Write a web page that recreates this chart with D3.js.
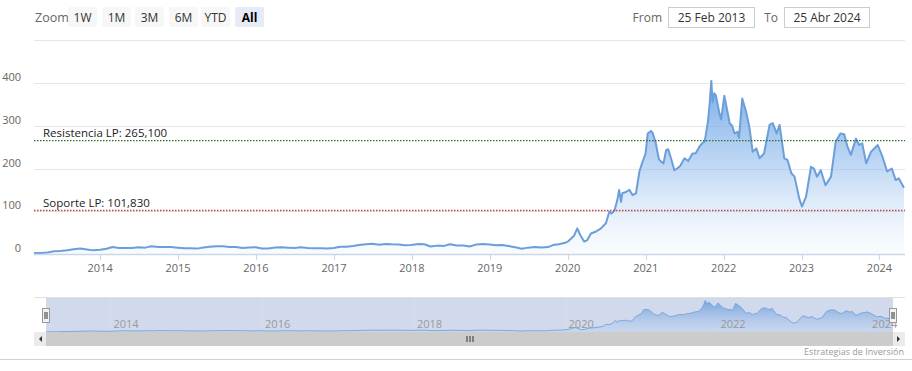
<!DOCTYPE html>
<html><head><meta charset="utf-8">
<script src="https://cdn.jsdelivr.net/npm/d3@7"></script>
<style>
body{margin:0;background:#fff}
svg{display:block;font-family:"Open Sans",sans-serif}
</style>
</head><body>
<svg id="c" width="912" height="371"></svg>
<script>
// ---------- DATA ----------
const dates = [
"2013-02-25","2013-03-28","2013-04-30","2013-05-31","2013-06-28","2013-07-31","2013-08-30","2013-09-30","2013-10-31","2013-11-29","2013-12-31",
"2014-01-31","2014-02-28","2014-03-31","2014-04-30","2014-05-30","2014-06-30","2014-07-31","2014-08-29","2014-09-30","2014-10-31","2014-11-28","2014-12-31",
"2015-01-30","2015-02-27","2015-03-31","2015-04-30","2015-05-29","2015-06-30","2015-07-31","2015-08-31","2015-09-30","2015-10-30","2015-11-30","2015-12-31",
"2016-01-29","2016-02-29","2016-03-31","2016-04-29","2016-05-31","2016-06-30","2016-07-29","2016-08-31","2016-09-30","2016-10-31","2016-11-30","2016-12-30",
"2017-01-31","2017-02-28","2017-03-31","2017-04-28","2017-05-31","2017-06-30","2017-07-31","2017-08-31","2017-09-29","2017-10-31","2017-11-30","2017-12-29",
"2018-01-31","2018-02-28","2018-03-29","2018-04-30","2018-05-31","2018-06-29","2018-07-31","2018-08-31","2018-09-28","2018-10-31","2018-11-30","2018-12-31",
"2019-01-31","2019-02-28","2019-03-29","2019-04-30","2019-05-31","2019-06-28","2019-07-31","2019-08-30","2019-10-01","2019-10-24","2019-11-20","2019-12-16",
"2020-01-02","2020-01-15","2020-01-31","2020-02-15","2020-02-28","2020-03-18","2020-04-01","2020-04-19","2020-05-10","2020-06-05","2020-06-28","2020-07-14","2020-07-24","2020-08-07","2020-08-20","2020-08-29","2020-09-07","2020-09-13","2020-09-30","2020-10-16","2020-10-31","2020-11-16","2020-12-02","2020-12-17","2020-12-31",
"2021-01-10","2021-01-25","2021-02-03","2021-02-17","2021-03-03","2021-03-14","2021-03-25","2021-04-06","2021-04-16","2021-04-29","2021-05-15","2021-05-28","2021-06-11","2021-07-01","2021-07-19","2021-08-08","2021-08-23","2021-09-09","2021-09-24","2021-10-04","2021-10-20","2021-10-27","2021-11-04","2021-11-10","2021-11-18","2021-11-26","2021-12-12","2021-12-20",
"2022-01-04","2022-01-14","2022-01-29","2022-02-10","2022-02-21","2022-03-07","2022-03-14","2022-03-29","2022-04-16","2022-05-01","2022-05-17","2022-06-03","2022-06-18","2022-07-09","2022-08-04","2022-08-19","2022-09-06","2022-09-20","2022-10-12","2022-10-27","2022-11-14","2022-11-29","2022-12-21",
"2023-01-03","2023-01-22","2023-02-14","2023-02-28","2023-03-14","2023-04-01","2023-04-23","2023-05-19","2023-06-10","2023-07-02","2023-07-20","2023-08-04","2023-08-20","2023-09-13","2023-09-27","2023-10-12","2023-10-31","2023-11-22","2023-12-24",
"2024-01-15","2024-02-06","2024-02-28","2024-03-17","2024-03-31","2024-04-08","2024-04-25"
];
const values = [
2.3,2.5,3.6,6.5,7.2,8.9,11.2,12.9,10.7,8.5,10.0,
12.1,16.2,13.9,13.9,13.8,16.0,14.9,17.9,16.2,16.1,16.3,14.8,
13.6,13.6,12.6,15.1,16.7,17.9,17.9,16.6,16.6,13.8,15.3,16.0,
12.7,12.7,15.3,16.0,14.9,14.2,15.6,14.1,13.6,13.2,12.7,14.2,
16.9,16.7,18.6,20.9,22.7,24.1,21.6,23.6,22.7,22.1,20.6,20.8,
23.6,22.9,17.7,19.6,19.0,22.9,19.9,20.1,17.6,22.5,23.5,22.2,
20.5,21.3,18.7,15.9,12.3,14.9,16.1,15.0,16.1,20.9,23,25.5,
29,35,43,60,45,29,32,48,52,60,72,99,95,101,125,150,122,142,145,150,138,142,193,216,235,
282,288,282,259,222,216,212,243,245,224,196,200,206,224,218,235,236,251,260,263,313,350,405,355,376,370,329,315,
370,345,306,300,282,286,272,364,333,298,239,247,224,235,302,306,282,302,224,220,189,181,130,
111,134,204,200,181,196,161,181,263,282,280,251,232,270,255,259,212,239,255,
228,193,200,173,177,170,155
];
const yTickValues = [0,100,200,300,400];
const gridValues = [100,200,300,400,500];
const plotLineValues = [265.1, 101.83];
const plotLineLabels = ["Resistencia LP: 265,100","Soporte LP: 101,830"];
const plotLineColors = ["#2f6f2f","#c0474f"];
const zoomButtons = ["1W","1M","3M","6M","YTD","All"];
const fromText = "25 Feb 2013", toText = "25 Abr 2024";
const creditText = "Estrategias de Inversión";

// ---------- SETUP ----------
const svg = d3.select("#c");
const parse = d3.utcParse("%Y-%m-%d");
const data = dates.map((d,i)=>({date:parse(d), v:values[i]}));
const L = 34, R = 905, TOP = 40, BOT = 254;
const x = d3.scaleUtc().domain(d3.extent(data,d=>d.date)).range([L,904]);
const y = d3.scaleLinear().domain([0,500]).range([BOT,40.3]);

// gradient
const defs = svg.append("defs");
const g1 = defs.append("linearGradient").attr("id","gm").attr("gradientUnits","userSpaceOnUse")
  .attr("x1",0).attr("y1",80).attr("x2",0).attr("y2",BOT);
g1.append("stop").attr("offset","0").attr("stop-color","#6aa3e4").attr("stop-opacity",0.9);
g1.append("stop").attr("offset","0.5").attr("stop-color","#8db9ec").attr("stop-opacity",0.55);
g1.append("stop").attr("offset","1").attr("stop-color","#d8e7f8").attr("stop-opacity",0.15);
const g2 = defs.append("linearGradient").attr("id","gn").attr("gradientUnits","userSpaceOnUse")
  .attr("x1",0).attr("y1",298).attr("x2",0).attr("y2",332);
g2.append("stop").attr("offset","0").attr("stop-color","#5f97d9").attr("stop-opacity",0.9);
g2.append("stop").attr("offset","1").attr("stop-color","#a9c6ec").attr("stop-opacity",0.2);

// ---------- RANGE SELECTOR ----------
svg.append("text").attr("x",35).attr("y",22).attr("font-size",12.5).attr("fill","#666").text("Zoom");
const bx = [68,102,135,169,201,235];
zoomButtons.forEach((b,i)=>{
  const sel = b==="All";
  svg.append("rect").attr("x",bx[i]).attr("y",7).attr("width",29).attr("height",20).attr("rx",2)
    .attr("fill",sel?"#e6ebf5":"#f7f7f7");
  svg.append("text").attr("x",bx[i]+14.5).attr("y",22).attr("text-anchor","middle").attr("font-size",12)
    .attr("fill",sel?"#000":"#333").attr("font-weight",sel?"bold":"normal").text(b);
});
svg.append("text").attr("x",662).attr("y",22).attr("text-anchor","end").attr("font-size",12).attr("fill","#666").text("From");
svg.append("rect").attr("x",668.5).attr("y",7.5).attr("width",86).attr("height",20).attr("fill","#fff").attr("stroke","#cccccc");
svg.append("text").attr("x",711.5).attr("y",22).attr("text-anchor","middle").attr("font-size",12).attr("fill","#333").text(fromText);
svg.append("text").attr("x",778).attr("y",22).attr("text-anchor","end").attr("font-size",12).attr("fill","#666").text("To");
svg.append("rect").attr("x",784.5).attr("y",7.5).attr("width",85).attr("height",20).attr("fill","#fff").attr("stroke","#cccccc");
svg.append("text").attr("x",827).attr("y",22).attr("text-anchor","middle").attr("font-size",12).attr("fill","#333").text(toText);

// ---------- GRID ----------
svg.append("g").selectAll("line").data(gridValues).join("line")
  .attr("x1",L).attr("x2",R).attr("y1",d=>Math.round(y(d))+0.5).attr("y2",d=>Math.round(y(d))+0.5)
  .attr("stroke","#e6e6e6");
svg.append("g").selectAll("text").data(yTickValues).join("text")
  .attr("x",21).attr("y",d=>y(d)-2).attr("text-anchor","end").attr("font-size",11).attr("fill","#666")
  .text(d=>d);

// ---------- SERIES ----------
const area = d3.area().x(d=>x(d.date)).y0(y(0)).y1(d=>y(d.v));
const line = d3.line().x(d=>x(d.date)).y(d=>y(d.v));
svg.append("path").datum(data).attr("d",area).attr("fill","url(#gm)");
svg.append("path").datum(data).attr("d",line).attr("fill","none").attr("stroke","#6a9fda").attr("stroke-width",2).attr("stroke-linejoin","round");

// ---------- PLOT LINES ----------
plotLineValues.forEach((v,i)=>{
  svg.append("line").attr("x1",L).attr("x2",R).attr("y1",y(v)).attr("y2",y(v))
    .attr("stroke",plotLineColors[i]).attr("stroke-width",1.3).attr("stroke-dasharray","1.5,1.5");
  svg.append("text").attr("x",43).attr("y",y(v)-3.5).attr("font-size",11.5).attr("fill","#222").text(plotLineLabels[i]);
});

// ---------- X AXIS ----------
svg.append("line").attr("x1",L).attr("x2",R).attr("y1",BOT+0.5).attr("y2",BOT+0.5).attr("stroke","#ccd6eb").attr("stroke-width",1.5);
const xt = x.ticks(d3.utcYear.every(1));
svg.append("g").selectAll("line").data(xt).join("line")
  .attr("x1",d=>Math.round(x(d))+0.5).attr("x2",d=>Math.round(x(d))+0.5).attr("y1",BOT).attr("y2",BOT+6).attr("stroke","#ccd6eb");
svg.append("g").selectAll("text").data(xt).join("text")
  .attr("x",d=>x(d)).attr("y",272).attr("text-anchor","middle").attr("font-size",11).attr("fill","#666")
  .text(d3.utcFormat("%Y"));

// ---------- NAVIGATOR ----------
const NT = 297, NB = 332;
const xn = d3.scaleUtc().domain(x.domain()).range([46,893]);
const yn = d3.scaleLinear().domain([0,420]).range([NB,NT+2]);
svg.append("rect").attr("x",L).attr("y",NT).attr("width",R-L).attr("height",NB-NT).attr("fill","#fff");
svg.append("rect").attr("x",46).attr("y",NT).attr("width",893-46).attr("height",NB-NT).attr("fill","rgba(102,133,194,0.3)");
const nt = xn.ticks(d3.utcYear.every(2));
svg.append("g").selectAll("line").data(nt).join("line")
  .attr("x1",d=>Math.round(xn(d))+0.5).attr("x2",d=>Math.round(xn(d))+0.5).attr("y1",NT).attr("y2",NB).attr("stroke","#d8dde8");
const areaN = d3.area().x(d=>xn(d.date)).y0(NB).y1(d=>yn(d.v));
const lineN = d3.line().x(d=>xn(d.date)).y(d=>yn(d.v));
svg.append("path").datum(data).attr("d",areaN).attr("fill","url(#gn)");
svg.append("path").datum(data).attr("d",lineN).attr("fill","none").attr("stroke","#7aa8de").attr("stroke-width",1);
svg.append("g").selectAll("text").data(nt).join("text")
  .attr("x",d=>xn(d)+3).attr("y",328).attr("font-size",11).attr("fill","#999").text(d3.utcFormat("%Y"));
svg.append("line").attr("x1",L).attr("x2",R).attr("y1",NT+0.5).attr("y2",NT+0.5).attr("stroke","#e0e0e0");
// handles
[46,893].forEach(hx=>{
  svg.append("rect").attr("x",hx-3.5).attr("y",308.5).attr("width",7).attr("height",14).attr("fill","#f2f2f2").attr("stroke","#999");
  svg.append("line").attr("x1",hx-1).attr("x2",hx-1).attr("y1",312).attr("y2",319).attr("stroke","#333");
  svg.append("line").attr("x1",hx+1).attr("x2",hx+1).attr("y1",312).attr("y2",319).attr("stroke","#333");
});

// ---------- SCROLLBAR ----------
svg.append("rect").attr("x",L).attr("y",NB).attr("width",R-L).attr("height",14).attr("fill","#f2f2f2");
svg.append("rect").attr("x",46).attr("y",NB).attr("width",893-46).attr("height",14).attr("fill","#cccccc");
svg.append("rect").attr("x",L).attr("y",NB).attr("width",12).attr("height",14).attr("fill","#ebebeb");
svg.append("rect").attr("x",893).attr("y",NB).attr("width",12).attr("height",14).attr("fill","#ebebeb");
svg.append("path").attr("d",`M${L+8},${NB+4} L${L+5},${NB+7} L${L+8},${NB+10} Z`).attr("fill","#333");
svg.append("path").attr("d",`M${R-8},${NB+4} L${R-5},${NB+7} L${R-8},${NB+10} Z`).attr("fill","#333");
const gx = (46+893)/2;
[-3,0,3].forEach(o=>{
  svg.append("line").attr("x1",gx+o+0.5).attr("x2",gx+o+0.5).attr("y1",NB+4).attr("y2",NB+10).attr("stroke","#333");
});

// ---------- CREDITS ----------
svg.append("text").attr("x",904).attr("y",355).attr("text-anchor","end").attr("font-size",9).attr("fill","#999").text(creditText);
svg.append("line").attr("x1",0).attr("x2",912).attr("y1",359.5).attr("y2",359.5).attr("stroke","#d0d0d0");
</script>
</body></html>
